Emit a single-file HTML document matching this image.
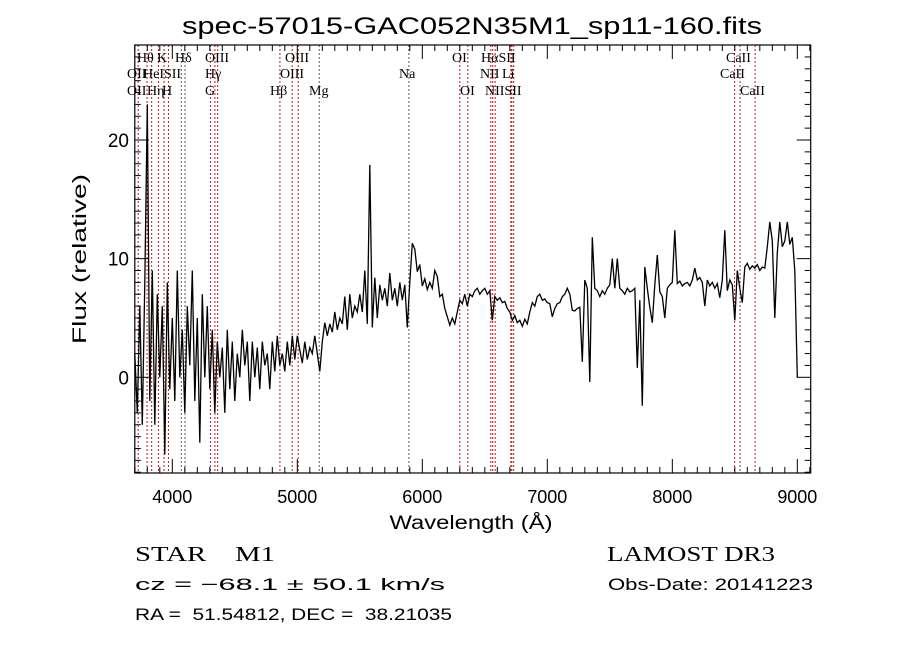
<!DOCTYPE html>
<html><head><meta charset="utf-8"><style>
html,body{margin:0;padding:0;background:#fff;}
svg{display:block;}
text{fill:#000;white-space:pre;}
</style></head><body>
<svg id="chart" width="900" height="649" viewBox="0 0 900 649" xmlns="http://www.w3.org/2000/svg" font-family="Liberation Sans, sans-serif">
<rect width="900" height="649" fill="#fff"/>
<text x="472" y="34" text-anchor="middle" font-size="24" textLength="580" lengthAdjust="spacingAndGlyphs">spec-57015-GAC052N35M1_sp11-160.fits</text>
<g id="lines"></g>
<g id="labels" font-family="Liberation Serif, serif" font-size="14"></g>
<path id="spec" fill="none" stroke="#000" stroke-width="1.3"/>
<g id="axes"></g>
<text transform="translate(86,259) rotate(-90)" text-anchor="middle" font-size="19" textLength="170" lengthAdjust="spacingAndGlyphs">Flux (relative)</text>
<text x="471" y="529" text-anchor="middle" font-size="19" textLength="163" lengthAdjust="spacingAndGlyphs">Wavelength (Å)</text>
<text x="135" y="561" font-family="Liberation Serif, serif" font-size="21" textLength="140" lengthAdjust="spacingAndGlyphs" xml:space="preserve">STAR    M1</text>
<text x="607" y="561" font-family="Liberation Serif, serif" font-size="21" textLength="168" lengthAdjust="spacingAndGlyphs">LAMOST DR3</text>
<text x="135" y="590" font-size="17" textLength="310" lengthAdjust="spacingAndGlyphs">cz = −68.1 ± 50.1 km/s</text>
<text x="608" y="590" font-size="17" textLength="205" lengthAdjust="spacingAndGlyphs">Obs-Date: 20141223</text>
<text x="135" y="620" font-size="17" textLength="317" lengthAdjust="spacingAndGlyphs" xml:space="preserve">RA =  51.54812, DEC =  38.21035</text>
</svg>
<script>
const waveStart = 3700;
const waveStep = 20;
const flux = [
2,-3,6,-4,8,23,-2,9,-4,7,0,6,-6.5,8,-1,5,-2,9,0,4,-3,6,1,9,-2,5,-5.5,7,0,6,-1,4,-3,3,0,2.5,-3,4,-1,3,-2,2,0,4,1,3,-2,3,0,2.5,-1,3,1,2,-1,3,0.5,3.5,1,2,0.5,3,1,3.5,1.5,3.5,
2.3,1.2,3,1.5,2.5,2,3.5,2,0.5,3,4.6,3.5,4.5,3.8,5.5,4,5,4.5,6.8,4,7,5,6,5.5,7,5.5,9,4.5,17.9,4.2,8.4,5,7.8,6.5,7.5,6,8.8,6.5,7.5,6,8,6.5,7.8,4.2,8,11.3,10.8,8.9,9.5,7.7,8.3,7.4,8,7.5,9,8.5,6.8,7,5.8,5.1,4.4,5,4.5,5.5,6.5,6.2,7,6,7,6.8,7.3,7.5,7,7.3,7.5,7,7.3,4.8,6.8,6.5,6.7,6.3,6.4,5.8,5.5,4.8,5.2,4.6,4.8,4.3,4.9,4.5,5.5,6.3,6.0,6.8,7.0,6.5,6.6,6.3,6.2,5.1,5.8,6.2,6.3,6.8,7,7.5,7,5.65,5.6,5.8,5.9,1.3,8.2,7.5,-0.4,11.8,7.5,7.3,6.8,7.3,7.0,7.5,7.8,10,7.5,10,7.5,7.3,7,7.5,7.2,7.3,7.5,0.8,6.5,-2.4,9.3,7.5,5.9,4.6,7.8,10.3,7.2,6.8,5.0,7.5,7.8,8.0,12.4,7.9,8.1,7.7,7.9,8,7.7,8.2,9.2,8.2,8.4,8.0,6.0,8.2,7.7,8.0,7.5,7.9,6.7,8.2,12.4,7.3,8.2,7.8,4.8,9,7.5,6.3,9.3,9.6,9.1,9.4,9.2,9.5,9.0,9.3,9.2,11,13.1,11.5,5,10.5,13.1,11,11.5,13.1,11.2,11.8,9,0
];
const lineWaves = [3727,3798,3835,3889,3934,3969,4072,4102,4305,4341,4363,4861,4959,5007,5175,5893,6300,6364,6548,6563,6583,6708,6716,6731,8498,8542,8662];
const lineDark = [0,0,0,0,0,0,1,1,0,0,0,0,0,0,1,1,0,0,0,0,0,0,0,0,0,0,0];
const labelText = ["Hθ","K","Hδ","OIII","OIII","OI","HαSII","CaII","OII","HeISII","Hγ","OIII","Na","NII","Li","CaII","OII","Hη","H","G","Hβ","Mg","OI","NIISII","CaII"];
const labelX = [137,157,175,205,285,452,481,726,127,143,205,280,399,480,502,720,127,147,162,205,270,309,460,485,740];
const labelRow = [0,0,0,0,0,0,0,0,1,1,1,1,1,1,1,1,2,2,2,2,2,2,2,2,2];
const xTicks = [4000,5000,6000,7000,8000,9000];
const yTicks = [0,10,20];

const X0=134.8, X1=810.7, Y0=45, Y1=473;
const wMin=3700, wMax=9107;
function xs(w){return X0+(w-wMin)/(wMax-wMin)*(X1-X0);}
function ys(f){return 377.3-(f)*(377.3-140)/20;}
const NS='http://www.w3.org/2000/svg';
function mk(tag,attrs,parent){const e=document.createElementNS(NS,tag);for(const k in attrs)e.setAttribute(k,attrs[k]);parent.appendChild(e);return e;}

const lg=document.getElementById('lines');
lineWaves.forEach((w,i)=>{
  const l=mk('line',{x1:xs(w),x2:xs(w),y1:Y0,y2:Y1,stroke:lineDark[i]?'#555':'#b41e1e','stroke-width':1,'stroke-dasharray':'2,2'},lg);
  
  
});
const lb=document.getElementById('labels');
const rowY=[62,78,95];
labelText.forEach((t,i)=>{
  const e=mk('text',{x:labelX[i],y:rowY[labelRow[i]]},lb);
  e.textContent=t;
  
  
});

let d='';
flux.forEach((f,i)=>{
  const w=waveStart+i*waveStep;
  d+=(i?'L':'M')+xs(w).toFixed(1)+','+ys(f).toFixed(1);
});
document.getElementById('spec').setAttribute('d',d);

const ax=document.getElementById('axes');
const fr=mk('rect',{x:X0,y:Y0,width:X1-X0,height:Y1-Y0,fill:'none',stroke:'#000','stroke-width':1.2},ax);


for(let w=3700;w<=9100;w+=100){
  const maj=(w%1000===0), len=maj?14:6, x=xs(w);
  mk('line',{x1:x,x2:x,y1:Y1,y2:Y1-len,stroke:'#000','stroke-width':1},ax);
  mk('line',{x1:x,x2:x,y1:Y0,y2:Y0+len,stroke:'#000','stroke-width':1},ax);
}
for(let f=-8;f<=28;f+=1){
  const maj=(f%10===0), len=maj?14:6, y=ys(f);
  mk('line',{x1:X0,x2:X0+len,y1:y,y2:y,stroke:'#000','stroke-width':1},ax);
  mk('line',{x1:X1,x2:X1-len,y1:y,y2:y,stroke:'#000','stroke-width':1},ax);
}
xTicks.forEach(w=>{
  const t=mk('text',{x:xs(w),y:503,'text-anchor':'middle','font-size':18,textLength:40,lengthAdjust:'spacingAndGlyphs'},ax);
  t.textContent=String(w);
  
  
});
yTicks.forEach(f=>{
  const t=mk('text',{x:129,y:ys(f)+7,'text-anchor':'end','font-size':19},ax);
  t.textContent=String(f);
  
  
});
</script>
</body></html>
